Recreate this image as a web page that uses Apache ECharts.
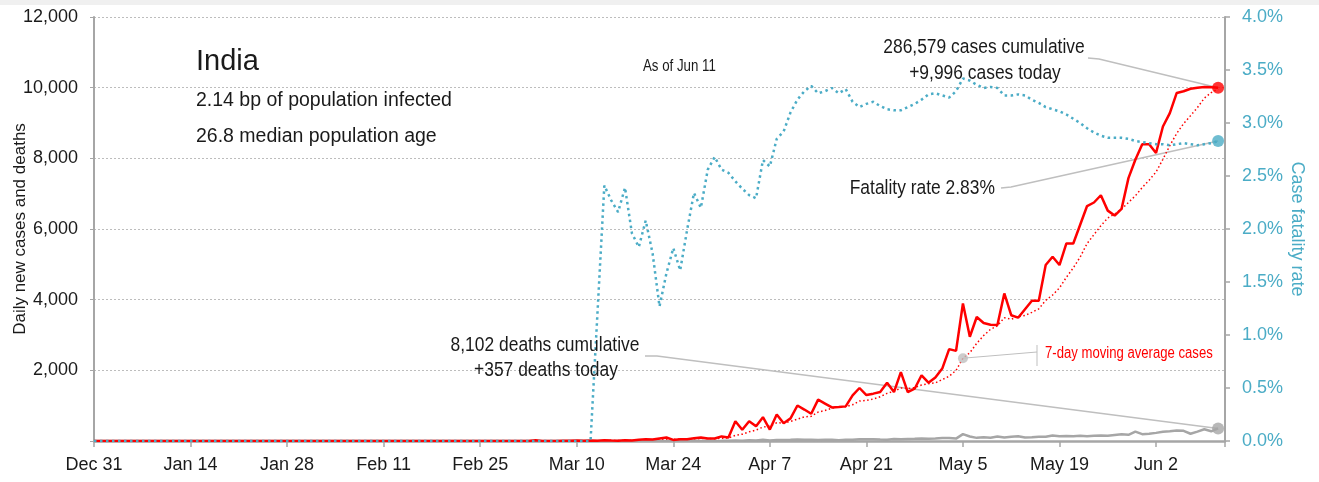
<!DOCTYPE html>
<html>
<head>
<meta charset="utf-8">
<style>
  html, body { margin: 0; padding: 0; background: #fff; }
  #main { width: 1319px; height: 482px; }
</style>
<script src="https://cdn.jsdelivr.net/npm/echarts@6.0.0/dist/echarts.min.js"></script>
</head>
<body>
<div id="main"></div>
<script>
// x axis = days since Dec 31, one tick label every 14 days
const tickLabels = ['Dec 31', 'Jan 14', 'Jan 28', 'Feb 11', 'Feb 25', 'Mar 10', 'Mar 24', 'Apr 7', 'Apr 21', 'May 5', 'May 19', 'Jun 2'];
const lastDay = 164;

// daily new cases, Dec 31 .. Jun 11
const dailyCases = [
    0, 0, 0, 0, 0, 0, 0, 0, 0, 0,
    0, 0, 0, 0, 0, 0, 0, 0, 0, 0,
    0, 0, 0, 0, 0, 0, 0, 0, 0, 0,
    1, 0, 0, 1, 1, 0, 0, 0, 0, 0,
    0, 0, 0, 0, 0, 0, 0, 0, 0, 0,
    0, 0, 0, 0, 0, 0, 0, 0, 0, 0,
    0, 0, 2, 1, 22, 2, 1, 3, 5, 4,
    13, 6, 11, 9, 20, 11, 6, 23, 14, 38,
    50, 40, 70, 100, 30, 50, 50, 80, 100, 70,
    70, 130, 100, 560, 320, 560, 420, 675, 325, 750,
    505, 640, 1005, 890, 770, 1170, 1060, 950, 960, 980,
    1290, 1500, 1300, 1340, 1385, 1650, 1385, 1950, 1385, 1480,
    1860, 1650, 1800, 2050, 2600, 2550, 3890, 2950, 3510, 3340,
    3290, 3280, 4175, 3560, 3490, 3730, 3970, 3970, 4980, 5215,
    4980, 5590, 5590, 6120, 6650, 6750, 6955, 6520, 6380, 6570,
    7440, 7960, 8400, 8400, 8150, 8900, 9280, 9850, 9900, 9970,
    10000, 10020, 10010, 9996
];

// 7-day moving average of cases
const avgCases = [
    0, 0, 0, 0, 0, 0, 0, 0, 0, 0,
    0, 0, 0, 0, 0, 0, 0, 0, 0, 0,
    0, 0, 0, 0, 0, 0, 0, 0, 0, 0,
    0, 0, 0, 0, 0, 0, 0, 0, 0, 0,
    0, 0, 0, 0, 0, 0, 0, 0, 0, 0,
    0, 0, 0, 0, 0, 0, 0, 0, 0, 0,
    0, 0, 0, 0, 4, 4, 4, 4, 5, 5,
    7, 5, 6, 7, 10, 11, 11, 12, 13, 17,
    23, 26, 35, 46, 49, 54, 56, 60, 69, 69,
    64, 79, 86, 159, 193, 259, 309, 395, 423, 516,
    508, 554, 617, 684, 698, 819, 863, 926, 972, 969,
    1026, 1130, 1149, 1189, 1251, 1349, 1407, 1501, 1485, 1511,
    1585, 1623, 1644, 1739, 1832, 1999, 2343, 2499, 2764, 2984,
    3161, 3259, 3491, 3444, 3521, 3552, 3642, 3739, 3982, 4131,
    4334, 4634, 4899, 5206, 5589, 5842, 6091, 6311, 6424, 6564,
    6752, 6939, 7175, 7381, 7614, 7974, 8361, 8706, 8983, 9207,
    9436, 9703, 9861, 9964
];

// daily deaths
const dailyDeaths = [
    0, 0, 0, 0, 0, 0, 0, 0, 0, 0,
    0, 0, 0, 0, 0, 0, 0, 0, 0, 0,
    0, 0, 0, 0, 0, 0, 0, 0, 0, 0,
    0, 0, 0, 0, 0, 0, 0, 0, 0, 0,
    0, 0, 0, 0, 0, 0, 0, 0, 0, 0,
    0, 0, 0, 0, 0, 0, 0, 0, 0, 0,
    0, 0, 0, 0, 0, 0, 0, 0, 0, 0,
    0, 0, 1, 0, 1, 0, 0, 1, 0, 1,
    0, 2, 2, 2, 1, 3, 4, 6, 2, 6,
    3, 6, 10, 12, 6, 20, 13, 35, 15, 26,
    30, 33, 40, 34, 35, 30, 38, 33, 23, 36,
    35, 50, 47, 49, 40, 37, 57, 49, 60, 62,
    73, 67, 72, 83, 83, 68, 195, 126, 89, 103,
    95, 128, 97, 122, 134, 100, 104, 120, 120, 157,
    134, 140, 132, 148, 137, 147, 154, 146, 170, 194,
    175, 265, 193, 204, 230, 260, 273, 294, 287, 206,
    266, 331, 274, 357
];

// case fatality rate, percent
const fatalityRate = [
    0, 0, 0, 0, 0, 0, 0, 0, 0, 0,
    0, 0, 0, 0, 0, 0, 0, 0, 0, 0,
    0, 0, 0, 0, 0, 0, 0, 0, 0, 0,
    0, 0, 0, 0, 0, 0, 0, 0, 0, 0,
    0, 0, 0, 0, 0, 0, 0, 0, 0, 0,
    0, 0, 0, 0, 0, 0, 0, 0, 0, 0,
    0, 0, 0, 0, 0, 0, 0, 0, 0, 0,
    0, 0, 0, 1.2, 2.41, 2.27, 2.16, 2.39, 1.96, 1.83,
    2.08, 1.77, 1.27, 1.58, 1.82, 1.61, 1.99, 2.34, 2.2, 2.56,
    2.68, 2.56, 2.53, 2.45, 2.38, 2.32, 2.29, 2.65, 2.59, 2.85,
    2.92, 3.1, 3.22, 3.3, 3.35, 3.28, 3.3, 3.33, 3.28, 3.32,
    3.2, 3.15, 3.18, 3.2, 3.16, 3.13, 3.12, 3.12, 3.15, 3.18,
    3.22, 3.27, 3.28, 3.26, 3.24, 3.3, 3.42, 3.4, 3.36, 3.33,
    3.34, 3.33, 3.26, 3.26, 3.27, 3.26, 3.22, 3.19, 3.15, 3.13,
    3.11, 3.08, 3.04, 3.0, 2.95, 2.91, 2.88, 2.86, 2.86, 2.86,
    2.85, 2.83, 2.82, 2.81, 2.8, 2.8, 2.79, 2.8, 2.81, 2.8,
    2.79, 2.8, 2.81, 2.83
];

const avgMarkerDay = 126;   // May 5, where the legend label points

const FONT = '"Liberation Sans", Arial, sans-serif';
const INK = '#1a1a1a';
const RED = '#ff0000';
const BLUE = '#4bacc6';
const GREY = '#a6a6a6';
const LEADER = '#bfbfbf';

function pairs(arr) {
    return arr.map((v, i) => [i, v]);
}

let chart = echarts.init(document.getElementById('main'));
const end = dailyCases.length - 1;

let option = {
    animation: false,
    textStyle: { fontFamily: FONT },
    grid: { left: 94, right: 94, top: 17, bottom: 41, containLabel: false, outerBoundsMode: 'none' },
    xAxis: {
        type: 'value',
        min: 0,
        max: lastDay,
        interval: 14,
        axisLine: { lineStyle: { color: GREY, width: 2.5 } },
        axisTick: { show: true, length: 6, lineStyle: { color: GREY, width: 1.5 } },
        axisLabel: {
            formatter: v => tickLabels[v / 14] || '',
            fontSize: 18, color: INK, margin: 15, fontFamily: FONT
        },
        splitLine: { show: false }
    },
    yAxis: [{
        type: 'value',
        min: 0,
        max: 12000,
        interval: 2000,
        name: 'Daily new cases and deaths',
        nameLocation: 'middle',
        nameGap: 65,
        nameRotate: 90,
        nameMoveOverlap: false,
        nameTextStyle: { fontSize: 17, color: INK, fontFamily: FONT },
        axisLine: { show: true, lineStyle: { color: GREY, width: 2 } },
        axisTick: { show: true, length: 4, lineStyle: { color: GREY } },
        axisLabel: {
            formatter: v => v === 0 ? '' : v.toLocaleString('en-US'),
            fontSize: 18, color: INK, margin: 16, fontFamily: FONT
        },
        splitLine: { lineStyle: { color: '#bdbdbd', width: 1, type: [2, 2] } }
    }, {
        type: 'value',
        position: 'right',
        min: 0,
        max: 4,
        interval: 0.5,
        name: 'Case fatality rate',
        nameLocation: 'middle',
        nameGap: 63,
        nameRotate: -90,
        nameMoveOverlap: false,
        nameTextStyle: { fontSize: 18, color: BLUE, fontFamily: FONT },
        axisLine: { show: true, lineStyle: { color: GREY, width: 2 } },
        axisTick: { show: true, length: 5, lineStyle: { color: GREY, width: 1.5 } },
        axisLabel: {
            formatter: v => v.toFixed(1) + '%',
            fontSize: 18, color: BLUE, margin: 17, fontFamily: FONT
        },
        splitLine: { show: false }
    }],
    series: [
        {
            name: 'cases',
            type: 'line',
            data: pairs(dailyCases),
            showSymbol: false,
            lineStyle: { color: RED, width: 2.5 },
            z: 4
        },
        {
            name: '7-day average',
            type: 'line',
            data: pairs(avgCases),
            showSymbol: false,
            lineStyle: { color: RED, width: 1.5, type: [1.5, 2.5] },
            z: 3
        },
        {
            name: 'deaths',
            type: 'line',
            data: pairs(dailyDeaths),
            showSymbol: false,
            lineStyle: { color: GREY, width: 2.5 },
            z: 3
        },
        {
            name: 'fatality rate',
            type: 'line',
            yAxisIndex: 1,
            data: pairs(fatalityRate),
            showSymbol: false,
            lineStyle: { color: BLUE, width: 2.5, type: [2.5, 3.5] },
            z: 5
        },
        // end-of-series dots
        {
            type: 'scatter',
            symbolSize: 12,
            itemStyle: { color: RED },
            data: [[end, dailyCases[end]]],
            z: 7
        },
        {
            type: 'scatter',
            yAxisIndex: 1,
            symbolSize: 12,
            itemStyle: { color: BLUE },
            data: [[end, fatalityRate[end]]],
            z: 7
        },
        {
            type: 'scatter',
            symbolSize: 12,
            itemStyle: { color: GREY },
            data: [[end, dailyDeaths[end]]],
            z: 7
        },
        {
            type: 'scatter',
            symbolSize: 10,
            itemStyle: { color: LEADER },
            data: [[avgMarkerDay, avgCases[avgMarkerDay]]],
            z: 7
        }
    ]
};
chart.setOption(option);

// 注释引线：终点取自数据点
const px = (d, v, axis) => chart.convertToPixel({ xAxisIndex: 0, yAxisIndex: axis || 0 }, [d, v]);
const pCases = px(end, dailyCases[end]);
const pRate = px(end, fatalityRate[end], 1);
const pDeaths = px(end, dailyDeaths[end]);
const pAvg = px(avgMarkerDay, avgCases[avgMarkerDay]);

function leader(points, width) {
    return {
        type: 'polyline',
        shape: { points: points },
        style: { stroke: LEADER, lineWidth: width || 1.5, fill: null },
        z: 2
    };
}
// narrow=横向压缩比例，模仿原图的窄体字
function label(x, y, text, size, align, color, narrow) {
    return {
        type: 'text',
        x: x, y: y,
        scaleX: narrow || 1,
        style: {
            text: text, fill: color || INK, font: size + 'px ' + FONT,
            align: align || 'left', verticalAlign: 'middle'
        },
        z: 10
    };
}

chart.setOption({
    graphic: [
        { type: 'rect', shape: { x: 0, y: 0, width: 1319, height: 5 }, style: { fill: '#f0f0f0' }, z: 0 },
        label(196, 62, 'India', 29),
        label(196, 101, '2.14 bp of population infected', 19.5),
        label(196, 137, '26.8 median population age', 19.5),
        label(643, 67, 'As of Jun 11', 16, 'left', INK, 0.83),
        label(984, 47, '286,579 cases cumulative', 20.5, 'center', INK, 0.85),
        label(985, 73, '+9,996 cases today', 20.5, 'center', INK, 0.85),
        leader([[1088, 58], [1099, 59], pCases]),
        label(995, 188, 'Fatality rate 2.83%', 20.5, 'right', INK, 0.85),
        leader([[1001, 188], [1011, 187], pRate]),
        label(545, 345, '8,102 deaths cumulative', 20.5, 'center', INK, 0.85),
        label(546, 370, '+357 deaths today', 20.5, 'center', INK, 0.85),
        leader([[645, 356], [657, 356], pDeaths]),
        leader([pAvg, [1037, 352]], 1),
        leader([[1037, 345], [1037, 366]], 1),
        label(1045, 354, '7-day moving average cases', 16, 'left', RED, 0.82)
    ]
});
</script>
</body>
</html>
